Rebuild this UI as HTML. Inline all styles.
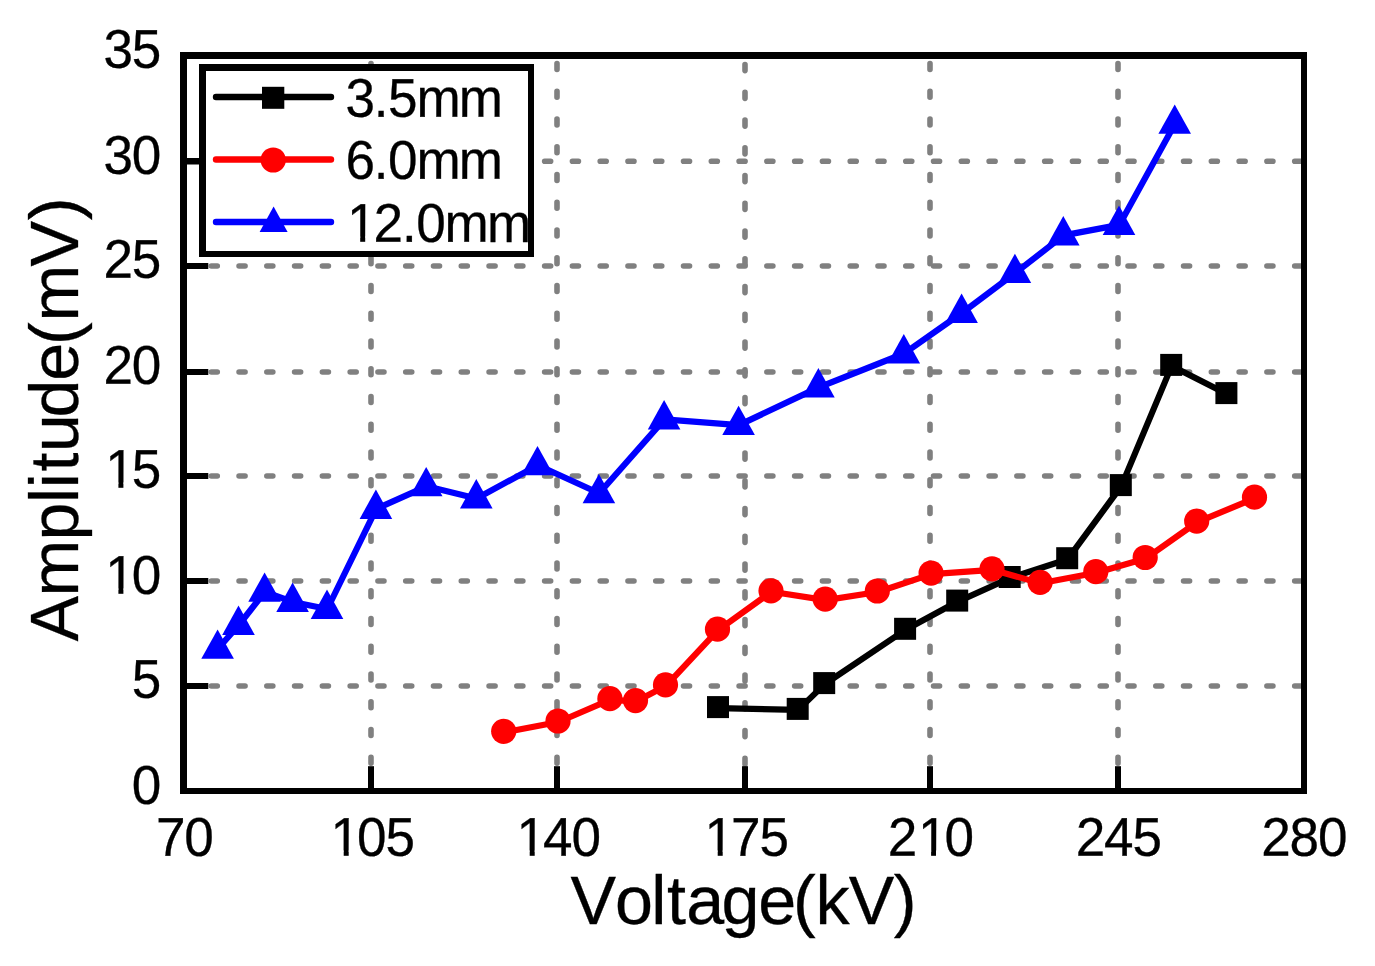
<!DOCTYPE html>
<html lang="en"><head><meta charset="utf-8"><title>Amplitude vs Voltage</title>
<style>html,body{margin:0;padding:0;background:#fff}body{width:1375px;height:966px;overflow:hidden}svg{display:block}text{font-family:"Liberation Sans",Arial,sans-serif;fill:#000;font-kerning:none;stroke:#000;stroke-width:.3px}.t{font-size:53px}.a{font-size:68.3px}</style></head><body>
<svg width="1375" height="966" viewBox="0 0 1375 966">
<rect width="1375" height="966" fill="#fff"/>
<g stroke="#808080" stroke-width="5.6" stroke-linecap="round" stroke-dasharray="6 21.75" fill="none">
<path stroke-dasharray="6 21.78" d="M183.5 686H1304"/>
<path stroke-dasharray="6 21.78" d="M183.5 581H1304"/>
<path stroke-dasharray="6 21.78" d="M183.5 476H1304"/>
<path stroke-dasharray="6 21.78" d="M183.5 372H1304"/>
<path stroke-dasharray="6 21.78" d="M183.5 266H1304"/>
<path stroke-dasharray="6 21.78" d="M183.5 161.2H1304"/>
<path d="M371 791V55.5"/>
<path d="M557 791V55.5"/>
<path stroke-dashoffset="1.1" d="M745 791V55.5"/>
<path d="M930 791V55.5"/>
<path d="M1118 791V55.5"/>
</g>
<g fill="#000">
<rect x="185" y="683" width="23.3" height="6"/>
<rect x="185" y="578" width="23.3" height="6"/>
<rect x="185" y="473" width="23.3" height="6"/>
<rect x="185" y="369" width="23.3" height="6"/>
<rect x="185" y="263" width="23.3" height="6"/>
<rect x="185" y="158" width="23.3" height="6.5"/>
<rect x="368" y="766.2" width="6" height="24"/>
<rect x="554" y="766.2" width="6" height="24"/>
<rect x="742" y="766.2" width="6" height="24"/>
<rect x="927" y="766.2" width="6" height="24"/>
<rect x="1115" y="766.2" width="6" height="24"/>
<path fill-rule="evenodd" d="M180 52H1307V794H180zM187 59V788H1301V59z"/>
</g>
<polyline fill="none" stroke-width="6.2" stroke-linejoin="round" stroke-linecap="round" stroke="#000" points="718.5,708.1 798.2,709.9 824.7,684.1 905.6,629.8 957.7,601.6 1010.2,578 1067.7,559.2 1121.3,486.1 1171.7,365.9 1226.9,394.1"/>
<g fill="#000">
<rect x="707" y="696.1" width="22" height="22"/>
<rect x="786.7" y="697.9" width="22" height="22"/>
<rect x="813.2" y="672.1" width="22" height="22"/>
<rect x="894.1" y="617.8" width="22" height="22"/>
<rect x="946.2" y="589.6" width="22" height="22"/>
<rect x="998.7" y="566" width="22" height="22"/>
<rect x="1056.2" y="547.2" width="22" height="22"/>
<rect x="1109.8" y="474.1" width="22" height="22"/>
<rect x="1160.2" y="353.9" width="22" height="22"/>
<rect x="1215.4" y="382.1" width="22" height="22"/>
</g>
<polyline fill="none" stroke-width="6.2" stroke-linejoin="round" stroke-linecap="round" stroke="#f00" points="504.2,732.3 558.5,722 610.4,699.7 636,701.6 666,685.8 718,630.2 771.5,591.8 825.7,600.1 877.8,592 931.6,574.1 992.5,569.8 1040.6,583.3 1096.3,572.7 1145.7,558.5 1197.2,522.1 1255,498.2"/>
<g fill="#f00">
<circle cx="503.7" cy="731.3" r="12.6"/>
<circle cx="558" cy="721" r="12.6"/>
<circle cx="609.9" cy="698.7" r="12.6"/>
<circle cx="635.5" cy="700.6" r="12.6"/>
<circle cx="665.5" cy="684.8" r="12.6"/>
<circle cx="717.5" cy="629.2" r="12.6"/>
<circle cx="771" cy="590.8" r="12.6"/>
<circle cx="825.2" cy="599.1" r="12.6"/>
<circle cx="877.3" cy="591" r="12.6"/>
<circle cx="931.1" cy="573.1" r="12.6"/>
<circle cx="992" cy="568.8" r="12.6"/>
<circle cx="1040.1" cy="582.3" r="12.6"/>
<circle cx="1095.8" cy="571.7" r="12.6"/>
<circle cx="1145.2" cy="557.5" r="12.6"/>
<circle cx="1196.7" cy="521.1" r="12.6"/>
<circle cx="1254.5" cy="497.2" r="12.6"/>
</g>
<polyline fill="none" stroke-width="6.2" stroke-linejoin="round" stroke-linecap="round" stroke="#00f" points="217.9,648.8 238.8,625 264.9,591.8 292.9,602 327.3,609 376.2,508.9 426.5,486.3 476.6,498.4 537.8,465.3 599.2,493.3 664.4,419.4 738.9,425.1 818.7,387.4 904.1,353.5 961.9,312.9 1015.2,273.1 1063.6,235.4 1119.3,224.9 1175,123.8"/>
<g fill="#00f">
<path d="M217.6 629.4l16.3 29.4h-32.6z"/>
<path d="M238.5 605.6l16.3 29.4h-32.6z"/>
<path d="M264.6 572.4l16.3 29.4h-32.6z"/>
<path d="M292.6 582.6l16.3 29.4h-32.6z"/>
<path d="M327 589.6l16.3 29.4h-32.6z"/>
<path d="M375.9 489.5l16.3 29.4h-32.6z"/>
<path d="M426.2 466.9l16.3 29.4h-32.6z"/>
<path d="M476.3 479l16.3 29.4h-32.6z"/>
<path d="M537.5 445.9l16.3 29.4h-32.6z"/>
<path d="M598.9 473.9l16.3 29.4h-32.6z"/>
<path d="M664.1 400l16.3 29.4h-32.6z"/>
<path d="M738.6 405.7l16.3 29.4h-32.6z"/>
<path d="M818.4 368l16.3 29.4h-32.6z"/>
<path d="M903.8 334.1l16.3 29.4h-32.6z"/>
<path d="M961.6 293.5l16.3 29.4h-32.6z"/>
<path d="M1014.9 253.7l16.3 29.4h-32.6z"/>
<path d="M1063.3 216l16.3 29.4h-32.6z"/>
<path d="M1119 205.5l16.3 29.4h-32.6z"/>
<path d="M1174.7 104.4l16.3 29.4h-32.6z"/>
</g>
<path fill="#fff" d="M199 64H534V257H199z"/>
<path fill="#000" fill-rule="evenodd" d="M199 64H534V257H199zM206 71V251H528V71z"/>
<g stroke-width="6.4" stroke-linecap="round"><path stroke="#000" d="M216 97H331"/><path stroke="#f00" d="M216 159.5H331"/><path stroke="#00f" d="M216 222H331"/></g>
<rect x="262" y="86.8" width="22.3" height="22" fill="#000"/>
<circle cx="273.2" cy="160" r="12.6" fill="#f00"/>
<path d="M273.6 206.6l14 25.4h-28z" fill="#00f"/>
<text class="t" transform="translate(423.4 116.8) rotate(.1) scale(1 1.03)" x="-77.9 -49.6 -35.4 -7 35.4" y="0">3.5mm</text>
<text class="t" transform="translate(423.4 178.8) rotate(.1) scale(1 1.03)" x="-77.9 -49.6 -35.4 -7 35.4" y="0">6.0mm</text>
<text class="t" transform="translate(437.4 241.8) rotate(.1) scale(1 1.03)" x="-90.4 -63.8 -35.4 -21.2 7.1 49.6" y="0">12.0mm</text>
<text class="t" transform="translate(146 803.8) rotate(.1) scale(1 1.03)" x="-14.2" y="0">0</text>
<text class="t" transform="translate(146 697.8) rotate(.1) scale(1 1.03)" x="-14.2" y="0">5</text>
<text class="t" transform="translate(131.8 593.8) rotate(.1) scale(1 1.03)" x="-26.6 0" y="0">10</text>
<text class="t" transform="translate(131.8 487.8) rotate(.1) scale(1 1.03)" x="-26.6 0" y="0">15</text>
<text class="t" transform="translate(131.8 383.8) rotate(.1) scale(1 1.03)" x="-28.4 0" y="0">20</text>
<text class="t" transform="translate(131.8 277.8) rotate(.1) scale(1 1.03)" x="-28.4 0" y="0">25</text>
<text class="t" transform="translate(131.8 173.8) rotate(.1) scale(1 1.03)" x="-28.4 0" y="0">30</text>
<text class="t" transform="translate(131.8 67.8) rotate(.1) scale(1 1.03)" x="-28.4 0" y="0">35</text>
<text class="t" transform="translate(184.3 855.8) rotate(.1) scale(1 1.03)" x="-28.4 0" y="0">70</text>
<text class="t" transform="translate(371.3 855.8) rotate(.1) scale(1 1.03)" x="-40.8 -14.2 14.2" y="0">105</text>
<text class="t" transform="translate(557.3 855.8) rotate(.1) scale(1 1.03)" x="-40.8 -14.2 14.2" y="0">140</text>
<text class="t" transform="translate(745.3 855.8) rotate(.1) scale(1 1.03)" x="-40.8 -14.2 14.2" y="0">175</text>
<text class="t" transform="translate(930.3 855.8) rotate(.1) scale(1 1.03)" x="-42.5 -12.4 14.2" y="0">210</text>
<text class="t" transform="translate(1118.3 855.8) rotate(.1) scale(1 1.03)" x="-42.5 -14.2 14.2" y="0">245</text>
<text class="t" transform="translate(1303.7 855.8) rotate(.1) scale(1 1.03)" x="-42.5 -14.2 14.2" y="0">280</text>
<g fill="#fff">
<rect x="349.4" y="236.5" width="10.8" height="6.7"/>
<rect x="365.2" y="236.5" width="10.3" height="6.7"/>
<rect x="107.6" y="588.5" width="10.8" height="6.7"/>
<rect x="123.4" y="588.5" width="10.3" height="6.7"/>
<rect x="107.6" y="482.5" width="10.8" height="6.7"/>
<rect x="123.4" y="482.5" width="10.3" height="6.7"/>
<rect x="332.9" y="850.5" width="10.8" height="6.7"/>
<rect x="348.7" y="850.5" width="10.3" height="6.7"/>
<rect x="518.9" y="850.5" width="10.8" height="6.7"/>
<rect x="534.7" y="850.5" width="10.3" height="6.7"/>
<rect x="706.9" y="850.5" width="10.8" height="6.7"/>
<rect x="722.7" y="850.5" width="10.3" height="6.7"/>
<rect x="920.3" y="850.5" width="10.8" height="6.7"/>
<rect x="936" y="850.5" width="10.3" height="6.7"/>
</g>
<text class="a" transform="translate(0 924) scale(1 1.015)" x="570.6 615.1 651.2 666.9 686.3 721.6 758.2 792.9 815.5 848.8 893.8" y="0">Voltage(kV)</text>
<text class="a" transform="translate(78 0) rotate(-90) scale(1 1.015)" x="-641.5 -596.4 -540.5 -503.1 -488.3 -471.5 -452.2 -417.6 -380.7 -344.9 -321.5 -266.4 -220.3" y="0">Amplitude(mV)</text>
</svg></body></html>
